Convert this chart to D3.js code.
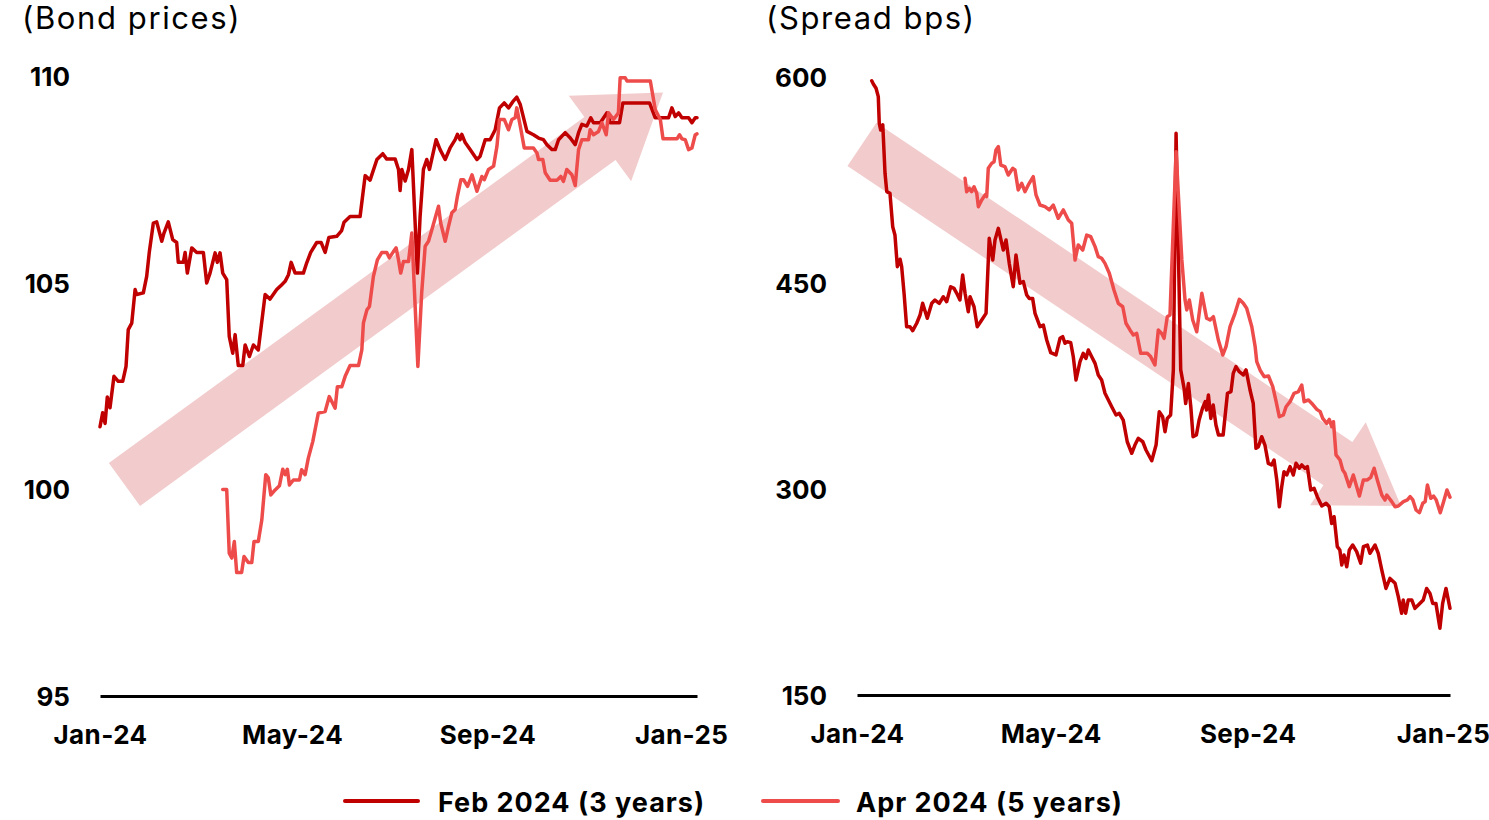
<!DOCTYPE html>
<html>
<head>
<meta charset="utf-8">
<script src="https://cdn.jsdelivr.net/npm/d3@7"></script>
<style>
  body { margin: 0; background: #fff; }
  svg { display: block; }
  text { font-family: Inter, "Open Sans", "DejaVu Sans", sans-serif; fill: #000; }
</style>
</head>
<body>
<svg id="chart" width="1489" height="820"></svg>
<script>
// ---- Data (days counted from 1 Jan 2024) ----
const seriesNames = ["Feb 2024 (3 years)", "Apr 2024 (5 years)"];
const panelTitles = ["(Bond prices)", "(Spread bps)"];
const xTickDates = ["2024-01-01", "2024-05-01", "2024-09-01", "2025-01-01"];
const priceTicks = [95, 100, 105, 110];
const spreadTicks = [150, 300, 450, 600];

// Bond prices, Feb 2024 (3 years)
const priceFebDays = [0,1.7,3.2,4.6,6.3,8.8,11.5,14.3,16.4,17.8,
  20.0,22.1,23.1,27.3,29.4,31.0,33.6,35.7,38.9,40.3,
  43.0,45.8,48.3,49.3,52.5,53.6,55.0,57.8,60.9,65.1,
  67.2,69.3,72.5,73.9,75.6,77.3,79.8,81.4,83.6,85.1,
  87.1,89.9,91.4,94.1,96.6,99.7,104.0,107.1,111.3,114.5,
  116.6,118.7,120.4,122.9,128.1,130.2,132.7,136.5,139.3,141.8,
  144.1,149.1,152.2,153.7,157.5,163.8,167.0,170.1,174.4,178.1,
  180.6,185.9,188.0,189.0,190.1,192.2,194.3,196.4,199.9,201.6,
  203.7,205.8,207.5,211.7,214.2,217.4,220.5,223.7,225.1,226.8,
  227.9,230.0,233.1,237.4,239.4,242.6,245.7,248.9,251.6,254.6,
  257.3,260.0,262.5,264.7,268.9,273.0,276.2,279.3,281.5,284.6,
  286.7,288.8,293.0,296.2,299.3,301.4,303.5,306.6,309.1,310.8,
  315.1,319.3,321.4,327.2,329.3,346.1,349.7,353.9,358.1,360.2,
  362.3,364.4,366.5,370.7,372.8,374.9,376];
const priceFebValues = [101.52,101.86,101.6,102.24,101.98,102.74,102.62,102.62,102.98,103.87,
  104.03,104.84,104.72,104.76,105.16,105.73,106.45,106.48,106.01,106.21,
  106.48,106.05,105.98,105.50,105.50,105.74,105.24,105.85,105.74,105.74,
  105.0,105.24,105.73,105.50,105.73,105.24,105.08,103.71,103.30,103.75,
  103.0,103.0,103.50,103.22,103.50,103.38,104.72,104.61,104.84,104.96,
  105.04,105.20,105.50,105.24,105.24,105.49,105.74,105.98,105.98,105.74,
  106.10,106.13,106.27,106.47,106.61,106.61,107.60,107.49,107.99,108.13,
  108.0,108.0,107.75,107.24,107.75,107.47,107.75,108.23,105.24,106.61,
  107.75,107.99,107.75,108.47,108.23,107.99,108.27,108.47,108.6,108.47,
  108.6,108.40,108.23,107.99,108.07,108.47,108.47,108.71,109.24,109.36,
  109.24,109.39,109.50,109.32,108.67,108.59,108.51,108.47,108.35,108.23,
  108.23,108.47,108.64,108.51,108.35,108.64,108.84,108.80,109.0,108.88,
  108.88,109.12,108.88,108.88,109.36,109.36,109.0,109.0,109.0,109.24,
  109.03,109.12,109.0,109.0,108.88,109.0,109.0];

// Bond prices, Apr 2024 (5 years)
const priceAprDays = [77.3,79.8,81.4,83.0,84.6,86.1,89.2,90.7,93.4,95.6,
  97.0,99.7,101.9,104.4,106.0,107.6,110.3,113.0,115.1,116.6,
  118.0,119.3,121.8,125.6,127.0,129.2,131.2,134.0,137.5,141.8,
  144.4,148.1,149.5,152.3,154.4,157.5,162.8,164.9,165.9,168.1,
  169.7,172.2,174.7,177.5,180.6,182.2,184.8,186.5,188.0,189.4,
  191.1,194.3,196.4,200.2,202.6,204.8,206.9,209.0,213.2,214.6,
  217.4,219.5,221.6,223.7,225.1,227.3,229.0,231.5,234.3,237.4,
  240.5,242.0,244.7,247.9,250.0,251.6,254.6,257.3,259.4,261.5,
  262.5,264.7,267.2,273.0,275.2,276.2,278.9,280.4,283.5,287.8,
  290.2,291.9,294.0,297.2,299.3,301.4,303.5,307.7,308.7,310.8,
  314.0,316.1,318.8,320.3,323.4,326.5,327.6,330.8,331.9,346.6,
  349.7,352.9,354.6,363.4,365.0,366.5,368.6,370.7,372.8,374.9,376];
const priceAprValues = [100.0,100.0,98.46,98.34,98.74,97.99,97.99,98.38,98.23,98.23,
  98.74,98.74,99.26,100.36,100.28,99.87,99.99,100.09,100.49,100.36,
  100.49,100.11,100.23,100.23,100.48,100.36,100.76,101.16,101.85,101.89,
  102.25,101.97,102.49,102.49,102.74,103.0,103.0,103.38,104.03,104.35,
  104.43,105.16,105.56,105.74,105.74,105.61,105.76,105.85,105.56,105.24,
  105.52,105.52,106.21,102.98,104.76,105.89,106.01,106.29,106.86,106.45,
  106.01,106.37,106.70,106.78,107.10,107.50,107.50,107.34,107.62,107.22,
  107.58,107.50,107.75,107.83,108.31,108.96,108.96,108.71,108.96,109.0,
  109.24,108.80,108.27,108.27,108.15,107.99,107.99,107.67,107.49,107.49,
  107.58,107.46,107.75,107.62,107.36,108.23,108.47,108.47,108.71,108.59,
  108.67,108.88,108.59,109.12,108.96,109.12,109.97,109.97,109.89,109.89,
  109.2,108.96,108.49,108.49,108.59,108.49,108.47,108.23,108.27,108.59,108.61];

// Spread (bps), Feb 2024 (3 years)
const spreadFebDays = [9.2,10.2,11.9,13.3,13.9,14.8,16.1,17.5,18.6,20.6,
  22.3,23.7,25.2,26.9,27.9,29.4,31.0,33.1,34.8,37.3,
  39.4,41.0,43.9,46.7,48.7,51.4,53.9,56.0,58.5,60.6,
  62.3,64.3,66.0,67.5,69.5,70.6,73.1,75.1,77.9,80.6,
  82.6,84.8,86.2,88.3,91.4,93.1,95.1,97.6,99.3,101.8,
  103.9,106.0,107.6,109.7,111.2,114.3,116.4,118.5,121.0,124.3,
  126.8,128.5,129.9,131.4,133.5,135.1,136.8,139.3,141.3,143.0,
  144.5,146.6,148.7,150.7,152.8,154.9,157.0,159.1,161.8,163.8,
  166.3,168.8,171.6,173.6,175.7,178.5,180.5,184.1,186.8,188.8,
  190.9,192.4,193.8,195.9,197.6,199.3,
  202.2,204.3,205.3,207.0,208.5,209.9,212.0,213.7,215.8,217.5,218.3,219.5,221.0,
  222.5,224.2,225.8,228.7,231.4,233.6,235.0,236.7,238.8,241.3,
  243.0,245.5,247.5,249.2,250.7,252.8,254.8,256.9,259.0,260.5,
  262.2,263.8,265.3,266.7,268.4,270.5,272.5,274.2,276.3,277.8,
  279.8,281.3,283.4,285.5,287.5,290.3,293.0,295.0,296.5,298.0,
  300.0,301.6,302.8,304.2,305.9,307.5,309.6,312.1,314.6,316.3,
  318.8,320.4,323.6,325.6,327.8,330.4,332.9,336.1,338.1,340.2,
  341.2,342.7,344.3,346.5,348.5,350.6,353.7,355.8,357.9,359.6,
  361.6,364.1,365.8,367.9,370.4];
const spreadFebValues = [597.3,594.9,591.8,585.7,566.3,561.4,565.1,529.9,516.5,515.3,
  491.0,485.0,461.9,467.3,461.9,442.5,418.2,418.2,415.3,420.7,
  426.7,435.2,424.3,435.2,437.6,435.2,440.0,436.4,447.3,446.1,
  442.5,437.6,455.8,442.5,429.1,440.0,432.7,418.2,423.1,427.9,
  482.6,466.7,481.3,489.8,474.0,481.3,464.3,447.3,470.4,449.8,
  451.0,441.3,438.8,438.8,427.9,418.2,419.4,408.5,399.3,397.6,
  409.7,410.9,406.1,407.3,406.5,396.3,379.4,392.7,398.8,395.1,
  401.2,396.3,391.5,383.0,379.4,369.7,364.8,359.9,353.9,355.1,
  350.2,334.4,326.0,332.0,336.9,334.4,328.4,320.6,332.0,356.3,
  352.6,341.7,351.4,353.9,386.7,559.0,
  386.7,373.3,362.3,376.9,359.9,338.1,339.3,350.2,358.8,363.6,357.5,368.5,351.4,
  361.2,346.6,339.3,339.3,369.7,370.9,384.2,389.1,385.4,383.0,
  386.7,372.1,362.3,329.6,330.8,338.1,332.0,318.7,317.5,321.1,
  306.6,287.1,301.7,312.6,310.2,316.3,310.2,318.7,315.1,317.5,
  315.1,316.3,299.3,300.5,294.4,287.6,289.6,287.1,274.9,279.8,
  258.0,255.6,244.7,251.9,243.4,255.6,259.2,254.4,245.9,258.0,
  259.2,253.2,259.2,253.2,241.0,227.6,234.9,231.3,221.6,209.5,
  219.2,209.5,219.2,219.2,213.1,215.5,219.2,227.6,223.9,216.7,
  216.7,198.6,216.7,227.6,213.1];

// Spread (bps), Apr 2024 (5 years)
const spreadAprDays = [67.5,68.5,70.1,71.6,73.1,74.8,75.8,77.9,80.0,81.0,
  82.0,84.1,85.6,86.8,88.3,89.8,92.4,94.5,97.3,98.7,
  100.7,102.9,104.9,107.0,110.1,111.8,114.3,117.4,120.1,122.6,
  125.7,128.9,132.0,134.1,136.2,138.2,141.0,143.5,146.0,148.7,
  150.7,152.8,154.9,157.6,160.5,163.2,166.0,168.0,170.5,172.6,
  174.7,177.2,181.3,183.4,186.1,188.2,190.3,191.8,193.8,195.5,
  199.3,202.9,204.9,206.0,207.6,209.7,212.2,215.4,218.4,
  220.5,222.6,225.7,228.5,230.5,233.0,236.1,238.8,241.3,243.4,
  246.6,248.7,249.7,251.8,254.3,257.0,259.7,261.8,263.8,266.3,
  268.0,270.5,273.0,275.7,277.8,279.3,282.0,284.1,287.2,289.3,
  290.9,293.4,295.0,296.5,297.6,299.2,301.7,303.4,304.8,307.5,
  310.0,313.8,316.3,318.8,320.9,323.0,325.0,327.8,329.8,330.9,
  334.0,336.1,338.1,341.3,343.8,345.5,347.2,349.2,351.3,353.4,
  354.9,356.3,358.4,360.1,361.8,364.3,366.4,368.5,370.4];
const spreadAprValues = [526.2,516.5,518.9,516.5,520.1,515.3,505.6,510.5,514.1,512.9,
  533.5,537.1,538.3,546.9,549.3,535.9,534.7,528.6,533.5,532.3,
  517.7,522.6,516.5,521.4,527.4,514.1,506.8,505.6,503.2,506.8,
  497.1,503.2,495.9,493.5,466.7,477.7,474.0,484.9,483.7,476.5,
  469.2,468.0,464.3,457.1,444.9,435.2,432.7,420.7,415.8,412.1,
  413.3,398.8,398.8,396.4,390.3,415.8,413.3,409.7,425.5,426.7,
  545.6,466.8,437.6,430.4,437.6,423.1,414.5,442.5,424.3,
  423.1,425.5,408.5,397.6,403.6,418.2,427.9,438.1,435.2,431.6,
  418.2,403.6,392.7,386.5,381.8,382.3,374.5,363.6,352.6,353.9,
  359.9,363.6,369.7,370.9,375.7,363.6,364.8,362.3,358.0,356.3,
  351.4,347.8,350.7,345.4,349.0,324.8,321.1,313.8,311.4,301.7,
  310.2,294.9,306.6,306.6,308.5,315.1,306.6,295.6,292.0,295.6,
  290.8,287.1,287.6,290.8,292.0,294.4,292.0,284.7,282.7,289.6,
  290.8,302.9,293.2,294.9,292.0,282.7,290.8,299.3,294.0];

// Trend arrows: start and end of each arrow in data terms
const priceTrendDays = [15.4, 354.6];
const priceTrendValues = [100.12, 109.61];
const spreadTrendDays = [3.1, 339.8];
const spreadTrendValues = [551, 287.6];

// ---- Drawing ----
const COLORS = ["#C00000", "#EE4B4B"];
const ARROW_FILL = "#F2CCCD";
const DAY = 864e5;
const origin = Date.UTC(2024, 0, 1);
const toDate = d => new Date(origin + d * DAY);
const fmt = d3.utcFormat("%b-%y");

const svg = d3.select("#chart");

function arrowPath(x0, y0, x1, y1, shaft, headW, headL) {
  const dx = x1 - x0, dy = y1 - y0, len = Math.hypot(dx, dy);
  const ux = dx / len, uy = dy / len, nx = -uy, ny = ux;
  const bx = x1 - ux * headL, by = y1 - uy * headL;
  const pts = [
    [x0 + nx * shaft / 2, y0 + ny * shaft / 2],
    [bx + nx * shaft / 2, by + ny * shaft / 2],
    [bx + nx * headW / 2, by + ny * headW / 2],
    [x1, y1],
    [bx - nx * headW / 2, by - ny * headW / 2],
    [bx - nx * shaft / 2, by - ny * shaft / 2],
    [x0 - nx * shaft / 2, y0 - ny * shaft / 2]
  ];
  return d3.line()(pts) + "Z";
}

function drawPanel(cfg) {
  const x = d3.scaleUtc().domain([toDate(0), toDate(cfg.endDay)]).range(cfg.xRange);
  const y = d3.scaleLinear().domain(cfg.yDomain).range(cfg.yRange);
  const g = svg.append("g");

  // title
  g.append("text")
    .attr("x", cfg.titleX).attr("y", 29)
    .style("font-size", "31px").style("font-weight", 400)
    .style("letter-spacing", "1.6px")
    .text(cfg.title);

  // trend arrow (behind the lines)
  g.append("path")
    .attr("d", arrowPath(
      x(toDate(cfg.trendDays[0])), y(cfg.trendValues[0]),
      x(toDate(cfg.trendDays[1])), y(cfg.trendValues[1]),
      cfg.shaft, cfg.headW, cfg.headL))
    .attr("fill", ARROW_FILL);

  // y axis labels
  const yAxis = d3.axisLeft(y).tickValues(cfg.yTicks).tickSize(0).tickPadding(0);
  const ya = g.append("g").attr("transform", `translate(${cfg.yLabelX},0)`).call(yAxis);
  ya.select(".domain").remove();
  ya.selectAll("text")
    .attr("dy", "0.36em")
    .style("font-size", "26px").style("font-weight", 700)
    .style("font-family", 'Inter, "Open Sans", sans-serif').attr("fill", "#000");

  // x axis with baseline
  const xAxis = d3.axisBottom(x)
    .tickValues(xTickDates.map(s => new Date(s + "T00:00:00Z")))
    .tickFormat(fmt).tickSizeInner(0).tickSizeOuter(0);
  const xa = g.append("g").attr("transform", `translate(0,${cfg.yRange[0]})`).call(xAxis);
  xa.select(".domain").attr("stroke", "#000").attr("stroke-width", 3);
  xa.selectAll("text")
    .attr("y", 48).attr("dy", 0)
    .style("font-size", "26px").style("font-weight", 700)
    .style("letter-spacing", "0.4px")
    .style("font-family", 'Inter, "Open Sans", sans-serif').attr("fill", "#000");

  // series lines
  const line = d3.line().x(d => x(d.date)).y(d => y(d.value)).curve(d3.curveLinear);
  cfg.series.forEach((s, i) => {
    const data = s.days.map((d, k) => ({ date: toDate(d), value: s.values[k] }));
    g.append("path")
      .datum(data)
      .attr("d", line)
      .attr("fill", "none")
      .attr("stroke", COLORS[i])
      .attr("stroke-width", 3.5)
      .attr("stroke-linejoin", "round")
      .attr("stroke-linecap", "round");
  });
}

drawPanel({
  title: panelTitles[0], titleX: 22,
  xRange: [100, 697], endDay: 376,
  yDomain: [95, 110], yRange: [696, 76.5], yTicks: priceTicks, yLabelX: 70,
  trendDays: priceTrendDays, trendValues: priceTrendValues,
  shaft: 53, headW: 106, headL: 78,
  series: [
    { days: priceFebDays, values: priceFebValues },
    { days: priceAprDays, values: priceAprValues }
  ]
});

drawPanel({
  title: panelTitles[1], titleX: 766,
  xRange: [857, 1450], endDay: 370.4,
  yDomain: [150, 600], yRange: [695, 77], yTicks: spreadTicks, yLabelX: 827,
  trendDays: spreadTrendDays, trendValues: spreadTrendValues,
  shaft: 52, headW: 100, headL: 76,
  series: [
    { days: spreadFebDays, values: spreadFebValues },
    { days: spreadAprDays, values: spreadAprValues }
  ]
});

// legend
const legendItems = [
  { x1: 345, x2: 418, tx: 438 },
  { x1: 763, x2: 838, tx: 856 }
];
const legend = svg.append("g");
legendItems.forEach((it, i) => {
  legend.append("line")
    .attr("x1", it.x1).attr("x2", it.x2).attr("y1", 801).attr("y2", 801)
    .attr("stroke", COLORS[i]).attr("stroke-width", 4).attr("stroke-linecap", "round");
  legend.append("text")
    .attr("x", it.tx).attr("y", 812)
    .style("font-size", "27px").style("font-weight", 700)
    .style("letter-spacing", "1px")
    .text(seriesNames[i]);
});
</script>
</body>
</html>
